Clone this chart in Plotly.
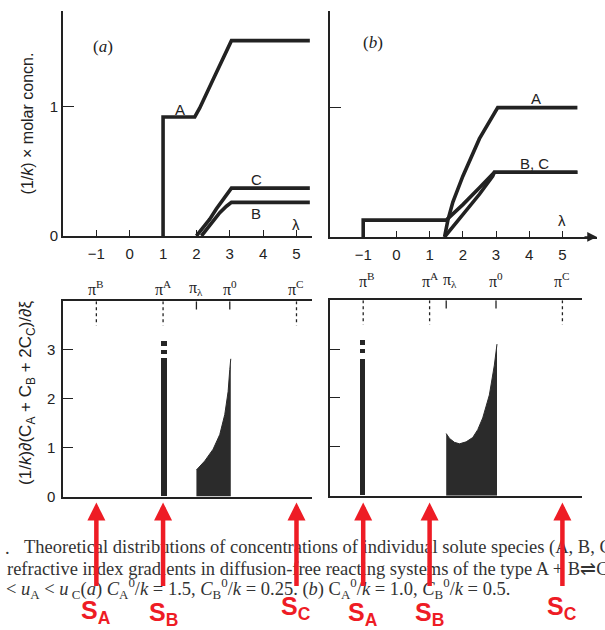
import plotly.graph_objects as go

# ---------------- data ----------------
# panel (a) concentrations
xa_A = [1, 1, 1.95, 2.1, 2.5, 3.05, 5.4]
ya_A = [0, 0.92, 0.92, 0.99, 1.21, 1.51, 1.51]
xa_C = [2.0, 2.2, 2.4, 2.6, 2.8, 3.05, 5.4]
ya_C = [0, 0.06, 0.13, 0.21, 0.28, 0.37, 0.37]
xa_B = [2.15, 2.3, 2.5, 2.7, 2.9, 3.05, 5.4]
ya_B = [0, 0.05, 0.12, 0.18, 0.23, 0.26, 0.26]

# panel (b) concentrations
xb_A = [1.45, 1.55, 1.7, 2.0, 2.5, 3.05, 5.45]
yb_A = [0, 0.13, 0.27, 0.47, 0.76, 1.0, 1.0]
xb_B = [-1, -1, 1.5, 2.0, 2.5, 2.95, 5.45]
yb_B = [0, 0.13, 0.13, 0.25, 0.38, 0.5, 0.5]
xb_C = [1.45, 2.0, 2.5, 2.9, 2.95, 5.45]
yb_C = [0, 0.175, 0.33, 0.47, 0.5, 0.5]

# refractive index gradients
xg_a = [2.0, 2.25, 2.5, 2.7, 2.85, 2.95, 3.0, 3.03]
yg_a = [0.545, 0.73, 0.97, 1.27, 1.68, 2.15, 2.6, 2.82]
xg_b = [1.5, 1.6, 1.75, 1.9, 2.1, 2.3, 2.45, 2.6, 2.8, 2.95, 3.03]
yg_b = [1.27, 1.17, 1.09, 1.06, 1.1, 1.19, 1.35, 1.59, 2.06, 2.67, 3.1]

spike_a_x, spike_a_h = 1.02, 2.83
spike_b_x, spike_b_h = -1.02, 2.8
spike_dot_base = [2.92, 3.07]
spike_dot_len = [0.08, 0.11]

# pi positions
pi_a = {"B": -1, "A": 1, "λ": 2, "0": 3, "C": 5}
pi_b = {"B": -1, "A": 1, "λ": 1.5, "0": 3, "C": 5}
pi_text = {"B": "π<sup>B</sup>", "A": "π<sup>A</sup>", "λ": "π<sub>λ</sub>",
           "0": "π<sup>0</sup>", "C": "π<sup>C</sup>"}
pi_dashed = ["B", "A", "C"]
pi_solid = ["λ", "0"]

x_ticks = [-1, 0, 1, 2, 3, 4, 5]
g_ticks = [0, 1, 2, 3]
arrow_pos_a = {"A": -1, "B": 1, "C": 5}
arrow_pos_b = {"A": -1, "B": 1, "C": 5}

# ---------------- figure ----------------
W, H = 605, 630
INK = "#222222"
RED = "#ee1c25"
SANS = "Liberation Sans, Arial, sans-serif"
SERIF = "Liberation Serif, Times New Roman, serif"

def px(xp):
    return xp / W

def py(yp):
    return 1 - yp / H

fig = go.Figure()

def line(x, y, xa, ya, w=3.6):
    fig.add_trace(go.Scatter(x=x, y=y, mode="lines", xaxis=xa, yaxis=ya,
                             line=dict(color=INK, width=w), showlegend=False,
                             hoverinfo="skip"))

line(xa_A, ya_A, "x", "y")
line(xa_C, ya_C, "x", "y")
line(xa_B, ya_B, "x", "y")
line(xb_A, yb_A, "x2", "y2")
line(xb_B, yb_B, "x2", "y2")
line(xb_C, yb_C, "x2", "y2")

# gradient fills
for xs, ys, xa, ya in [(xg_a, yg_a, "x3", "y3"), (xg_b, yg_b, "x4", "y4")]:
    fig.add_trace(go.Scatter(x=xs, y=ys, mode="lines", fill="tozeroy",
                             fillcolor="#2b2b2b", line=dict(color="#2b2b2b", width=1),
                             xaxis=xa, yaxis=ya, showlegend=False, hoverinfo="skip"))

# spikes (bar plus two dots above it)
for sx, sh, xa, ya in [(spike_a_x, spike_a_h, "x3", "y3"), (spike_b_x, spike_b_h, "x4", "y4")]:
    fig.add_trace(go.Bar(x=[sx], y=[sh], width=0.17, marker=dict(color="#262626", line=dict(width=0)),
                         xaxis=xa, yaxis=ya, showlegend=False, hoverinfo="skip"))
    fig.add_trace(go.Bar(x=[sx] * len(spike_dot_base), y=spike_dot_len, base=spike_dot_base,
                         width=0.17, marker=dict(color="#262626", line=dict(width=0)),
                         xaxis=xa, yaxis=ya, showlegend=False, hoverinfo="skip"))

# pi marker lines at top of gradient panels
for pis, xa, ya in [(pi_a, "x3", "y3"), (pi_b, "x4", "y4")]:
    for k in pi_dashed:
        fig.add_trace(go.Scatter(x=[pis[k], pis[k]], y=[4.0, 3.5], mode="lines",
                                 line=dict(color=INK, width=1.3, dash="3px,3px"),
                                 xaxis=xa, yaxis=ya, showlegend=False, hoverinfo="skip"))
    for k in pi_solid:
        fig.add_trace(go.Scatter(x=[pis[k], pis[k]], y=[4.0, 3.83], mode="lines",
                                 line=dict(color=INK, width=1.3),
                                 xaxis=xa, yaxis=ya, showlegend=False, hoverinfo="skip"))

axis_common = dict(showgrid=False, zeroline=False, showline=True, linecolor=INK,
                   linewidth=1.7, tickcolor=INK, tickwidth=1.3,
                   tickfont=dict(family=SANS, size=15, color=INK), fixedrange=True)

fig.update_layout(
    width=W, height=H, margin=dict(l=0, r=0, t=0, b=0),
    paper_bgcolor="white", plot_bgcolor="rgba(0,0,0,0)", showlegend=False,
    barmode="overlay",
    xaxis=dict(domain=[px(63), px(312)], range=[-2, 5.465], anchor="y",
               tickvals=x_ticks, ticks="inside", ticklen=6, ticklabelstandoff=3, **axis_common),
    yaxis=dict(domain=[py(239), py(11)], range=[0, 1.74], anchor="x",
               tickvals=[0, 1], ticks="inside", ticklen=11, **axis_common),
    xaxis2=dict(domain=[px(330), px(597)], range=[-2, 6.04], anchor="y2",
                tickvals=x_ticks, ticks="inside", ticklen=6, ticklabelstandoff=3, **axis_common),
    yaxis2=dict(domain=[py(240), py(11)], range=[0, 1.748], anchor="x2",
                tickvals=[1], ticks="inside", ticklen=11, showticklabels=False, **axis_common),
    xaxis3=dict(domain=[px(63), px(312)], range=[-2, 5.465], anchor="y3",
                mirror=True, showticklabels=False, ticks="", **axis_common),
    yaxis3=dict(domain=[py(503), py(305)], range=[0, 4.0], anchor="x3",
                tickvals=g_ticks, ticks="inside", ticklen=10, showticklabels=False,
                **axis_common),
    xaxis4=dict(domain=[px(330), px(582)], range=[-2, 5.59], anchor="y4",
                mirror=True, showticklabels=False, ticks="", **axis_common),
    yaxis4=dict(domain=[py(502), py(304)], range=[0, 4.0], anchor="x4",
                tickvals=g_ticks[1:], ticks="inside", ticklen=10, showticklabels=False, **axis_common),
    bargap=0,
)

ann = []

def txt(x, y, s, xref="paper", yref="paper", size=15, family=SANS, color=INK, **kw):
    d = dict(x=x, y=y, xref=xref, yref=yref, text=s, showarrow=False,
             xanchor="center", yanchor="middle",
             font=dict(family=family, size=size, color=color))
    d.update(kw)
    ann.append(d)

# y tick labels of gradient panel (a)
for t in g_ticks:
    txt(px(51), t, str(t), "paper", "y3", size=15)

# axis titles
txt(px(27), py(125), "(1/<i>k</i>) × molar concn.", textangle=-90, size=16)
txt(px(27), py(398), "(1/<i>k</i>)∂(C<sub>A</sub> + C<sub>B</sub> + 2C<sub>C</sub>)/∂ξ",
    textangle=-90, size=17)

# panel labels
txt(px(103), py(47), "(<i>a</i>)", family=SERIF, size=17)
txt(px(373), py(43), "(<i>b</i>)", family=SERIF, size=17)

# curve labels
txt(1.5, 0.98, "A", "x", "y")
txt(3.8, 0.435, "C", "x", "y")
txt(3.8, 0.17, "B", "x", "y")
txt(5.0, 0.085, "λ", "x", "y")
txt(4.2, 1.07, "A", "x2", "y2")
txt(4.15, 0.57, "B, C", "x2", "y2")
txt(5.0, 0.13, "λ", "x2", "y2")

# x-axis arrow in (b)
ann.append(dict(x=6.04, y=0, xref="x2", yref="y2", ax=-14, ay=0, text="",
                showarrow=True, arrowhead=2, arrowsize=1.3, arrowwidth=1.5, arrowcolor=INK))

# pi labels
for k, v in pi_a.items():
    txt(v, py(292), pi_text[k], "x3", "paper", size=16, family=SERIF)
for k, v in pi_b.items():
    txt(v + (0.12 if k in ("B", "λ") else 0), py(284), pi_text[k], "x4", "paper", size=16, family=SERIF)

# caption
cap_y = [555, 576, 596]
CAP = dict(family=SERIF, size=18.5, color="#333", xanchor="left")
txt(px(3), py(cap_y[0]), ".", **CAP)
txt(px(22), py(cap_y[0]),
    "Theoretical distributions of concentrations of individual solute species (A, B, C) and",
    **CAP)
txt(px(5), py(cap_y[1]),
    "refractive index gradients in diffusion-free reacting systems of the type A + B⇌C",
    **CAP)
txt(px(4), py(cap_y[2]),
    "&lt; <i>u</i><sub>A</sub> &lt; <i>u</i><sub> C</sub>(<i>a</i>) <i>C</i><sub>A</sub><sup>0</sup>/<i>k</i> = 1.5, "
    "<i>C</i><sub>B</sub><sup>0</sup>/<i>k</i> = 0.25. (<i>b</i>) C<sub>A</sub><sup>0</sup>/<i>k</i> = 1.0, "
    "<i>C</i><sub>B</sub><sup>0</sup>/<i>k</i> = 0.5.",
    **CAP)

# red arrows and S labels
for xa, pos, lab_y in [("x3", arrow_pos_a, {"A": 611, "B": 613, "C": 607}),
                       ("x4", arrow_pos_b, {"A": 613, "B": 613, "C": 607})]:
    for sp, xv in pos.items():
        ann.append(dict(x=xv, y=py(509), xref=xa, yref="paper", ax=0, ay=85, text="",
                        showarrow=True, arrowhead=2, arrowsize=0.8, arrowwidth=4.5,
                        arrowcolor=RED))
        ann.append(dict(x=xv, y=py(lab_y[sp] + 9), xref=xa, yref="paper",
                        xanchor="center", yanchor="middle",
                        text="<b>S<sub>%s</sub></b>" % sp, showarrow=False,
                        font=dict(family=SANS, size=25, color=RED)))

fig.update_layout(annotations=ann)
fig.write_html("out.html")
